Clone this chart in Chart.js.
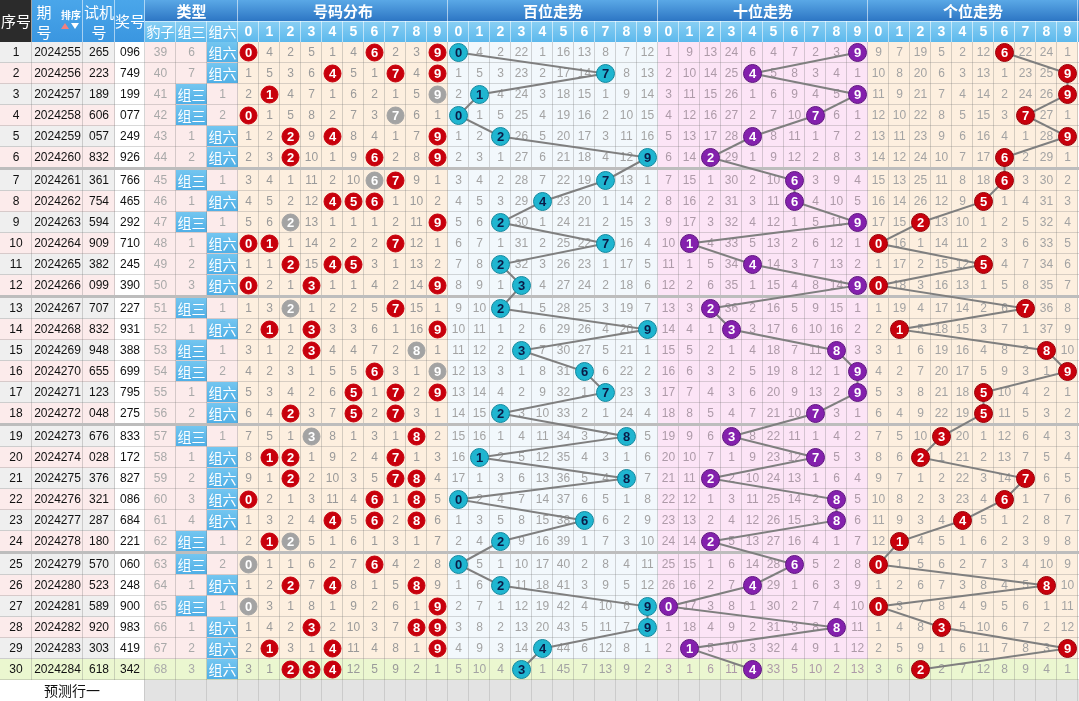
<!DOCTYPE html>
<html>
<head>
<meta charset="utf-8">
<script src="https://cdn.jsdelivr.net/npm/chart.js@4.4.1/dist/chart.umd.min.js"></script>
<style>
html,body{margin:0;padding:0;background:#fff;overflow:hidden}
canvas{display:block}
</style>
</head>
<body>
<canvas id="myChart" width="1079" height="701"></canvas>
<script>
// ---- data ----
var rowNo = [1,2,3,4,5,6,7,8,9,10,11,12,13,14,15,16,17,18,19,20,21,22,23,24,25,26,27,28,29,30];
var periods = ['2024255','2024256','2024257','2024258','2024259','2024260','2024261','2024262','2024263','2024264',
  '2024265','2024266','2024267','2024268','2024269','2024270','2024271','2024272','2024273','2024274',
  '2024275','2024276','2024277','2024278','2024279','2024280','2024281','2024282','2024283','2024284'];
var testNums = ['265','223','189','606','057','832','361','754','594','909','382','099','707','832','948',
  '655','123','048','676','028','376','321','287','180','570','523','589','920','303','618'];
var drawNums = ['096','749','199','077','249','926','766','465','292','710','245','390','227','931','388',
  '699','795','275','833','172','827','086','684','221','060','248','900','983','419','342'];
var digits = ['0','1','2','3','4','5','6','7','8','9'];
var typeNames = ['豹子','组三','组六'];
var sections = ['号码分布','百位走势','十位走势','个位走势'];
// miss counts shown in the first row (0 = hit)
var typeMiss0 = [39, 6, 0];
var distMiss0 = [0,4,2,5,1,4,0,2,3,0];
var baiMiss0 = [0,4,2,22,1,16,13,8,7,12];
var shiMiss0 = [1,9,13,24,6,4,7,2,3,0];
var geMiss0 = [9,7,19,5,2,12,0,22,24,1];

// ---- layout ----
var U = 21;                        // px per digit column / row
var SEP = 2 / U;                   // group separator
var leftEdges = [0,32,83,115,145,176,207,238];
var secStart = 238 / U;

function rowTop(i){ return i + Math.min(Math.floor(i / 6), 4) * SEP; }
function digitX(s, d){ return secStart + s * 10 + d; }

var n = drawNums.length;
function cnt(str, ch){ return str.split(ch).length - 1; }
function isBaozi(s){ return s[0]==s[1] && s[1]==s[2]; }
function isZuSan(s){ return !isBaozi(s) && (s[0]==s[1] || s[1]==s[2] || s[0]==s[2]); }

function missTable(first, hit){
  var out = [first.slice()];
  for (var i = 1; i < n; i++){
    out.push(first.map(function(_, d){ return hit(i, d) ? 0 : out[i-1][d] + 1; }));
  }
  return out;
}
var typeMiss = missTable(typeMiss0, function(i, k){
  var s = drawNums[i];
  return k == 0 ? isBaozi(s) : k == 1 ? isZuSan(s) : (!isBaozi(s) && !isZuSan(s));
});
var distMiss = missTable(distMiss0, function(i, d){ return cnt(drawNums[i], String(d)) > 0; });
var posMiss = [baiMiss0, shiMiss0, geMiss0].map(function(m, p){
  return missTable(m, function(i, d){ return drawNums[i][p] == String(d); });
});

// ---- datasets ----
var distPts = [], distCols = [];
drawNums.forEach(function(s, i){
  digits.forEach(function(ch, d){
    var c = cnt(s, ch);
    if (c > 0){
      distPts.push({x: digitX(0, d) + 0.5, y: rowTop(i) + 0.5, t: ch});
      distCols.push(c > 1 ? '#a3a3a3' : '#c8000c');
    }
  });
});
var posStyle = [
  {fill:'#1fb5d0', edge:'#12899f', text:'#0a1c48'},
  {fill:'#8420ad', edge:'#5f1680', text:'#ffffff'},
  {fill:'#c8000c', edge:'#9a0008', text:'#ffffff'}
];
var datasets = [{
  data: distPts, showLine: false, pointRadius: 8.5,
  pointBackgroundColor: distCols, pointBorderColor: distCols, pointBorderWidth: 1, txt: '#ffffff'
}];
[0,1,2].forEach(function(p){
  datasets.push({
    data: drawNums.map(function(s, i){ return {x: digitX(p + 1, +s[p]) + 0.5, y: rowTop(i) + 0.5, t: s[p]}; }),
    showLine: true, borderColor: '#7f7f7f', borderWidth: 2, tension: 0,
    pointRadius: 9, pointBackgroundColor: posStyle[p].fill, pointBorderColor: posStyle[p].edge,
    pointBorderWidth: 1, txt: posStyle[p].text
  });
});

var CJK = '"Noto Sans CJK SC", sans-serif';
var NUM = '"Liberation Sans", Arial, sans-serif';

var tablePlugin = {
  id: 'table',
  beforeDatasetsDraw: function(chart){
    var ctx = chart.ctx, xs = chart.scales.x, ys = chart.scales.y;
    function px(v){ return xs.getPixelForValue(v); }
    function py(v){ return ys.getPixelForValue(v); }
    function rect(x0, y0, x1, y1, c){ ctx.fillStyle = c; ctx.fillRect(x0, y0, x1 - x0, y1 - y0); }
    function text(t, x, y, font, c){ ctx.font = font; ctx.fillStyle = c; ctx.fillText(t, x, y); }
    ctx.save();
    ctx.textAlign = 'center'; ctx.textBaseline = 'middle';
    var W = chart.width;

    // body rows
    for (var i = 0; i < n; i++){
      var y0 = py(rowTop(i)), y1 = py(rowTop(i) + 1), yc = (y0 + y1) / 2;
      var last = i == n - 1, green = '#ebf7d0';
      var zebra = last ? green : (i % 2 == 0 ? '#efefef' : '#fcebeb');
      rect(leftEdges[0], y0, leftEdges[1], y1, zebra);
      rect(leftEdges[1], y0, leftEdges[2], y1, zebra);
      rect(leftEdges[2], y0, leftEdges[3], y1, zebra);
      rect(leftEdges[3], y0, leftEdges[4], y1, last ? green : '#ffffff');
      rect(leftEdges[4], y0, leftEdges[7], y1, last ? green : '#fcebeb');
      var secBg = ['#fdefdf', '#f2f8fc', '#fce4f6', '#fdefdf'];
      for (var s = 0; s < 4; s++){
        rect(px(digitX(s, 0)), y0, px(digitX(s, 10)), y1, last ? green : secBg[s]);
      }
      // type cells
      for (var k = 0; k < 3; k++){
        var xa = leftEdges[4 + k], xb = leftEdges[5 + k];
        if (typeMiss[i][k] == 0){
          var g = ctx.createLinearGradient(0, y0, 0, y1);
          g.addColorStop(0, '#74c6f0'); g.addColorStop(1, '#4eaee6');
          rect(xa, y0, xb, y1 - 1, g);
          text(typeNames[k], (xa + xb) / 2, yc, '14px ' + CJK, '#ffffff');
        } else {
          text(String(typeMiss[i][k]), (xa + xb) / 2, yc, '12px ' + NUM, '#a9a9a9');
        }
      }
      text(String(rowNo[i]), 16, yc, '12px ' + NUM, '#111');
      text(periods[i], 57.5, yc, '12px ' + NUM, '#111');
      text(testNums[i], 99, yc, '12px ' + NUM, '#111');
      text(drawNums[i], 130, yc, '12px ' + NUM, '#111');
      // miss numbers
      for (var d = 0; d < 10; d++){
        var cx = px(digitX(0, d) + 0.5);
        if (distMiss[i][d] > 0) text(String(distMiss[i][d]), cx, yc + 0.5, '12px ' + NUM, '#9a9a9a');
        for (var p = 0; p < 3; p++){
          if (posMiss[p][i][d] > 0)
            text(String(posMiss[p][i][d]), px(digitX(p + 1, d) + 0.5), yc + 0.5, '12px ' + NUM, p == 1 ? '#ad9aa8' : '#a3a3a3');
        }
      }
      // horizontal grid
      ctx.fillStyle = 'rgba(120,120,120,0.28)';
      ctx.fillRect(0, y1 - 1, W, 1);
    }
    // vertical grid lines
    var yTop = py(0), yBot = py(rowTop(n - 1) + 1);
    ctx.fillStyle = 'rgba(120,120,120,0.30)';
    leftEdges.slice(1).forEach(function(x){ ctx.fillRect(x - 1, yTop, 1, yBot - yTop); });
    for (var c = 1; c <= 40; c++){ ctx.fillRect(Math.round(px(secStart + c)) - 1, yTop, 1, yBot - yTop); }
    // group separators
    for (var gI = 6; gI < n; gI += 6){
      var ys0 = py(rowTop(gI - 1) + 1), ys1 = py(rowTop(gI));
      rect(0, ys0 - 1, W, ys1, '#bdbdbd');
    }
    // forecast row
    var fy0 = py(rowTop(n)), fy1 = chart.height;
    rect(0, fy0, leftEdges[4], fy1, '#ffffff');
    rect(leftEdges[4], fy0, W, fy1, '#e3e3e3');
    ctx.fillStyle = '#cbcbcb';
    [176, 207, 238].forEach(function(x){ ctx.fillRect(x - 1, fy0, 1, fy1 - fy0); });
    ctx.fillRect(leftEdges[4] - 1, fy0, 1, fy1 - fy0);
    for (var c2 = 1; c2 <= 40; c2++){ ctx.fillRect(Math.round(px(secStart + c2)) - 1, fy0, 1, fy1 - fy0); }
    text('预测行一', 72, (fy0 + fy1) / 2, '14px ' + CJK, '#111');

    // header
    var h0 = py(-2), h1 = py(-1), h2 = py(0);
    function topGrad(){ var g = ctx.createLinearGradient(0, h0, 0, h1); g.addColorStop(0, '#5aa8e6'); g.addColorStop(1, '#2d76c4'); return g; }
    function subGrad(){ var g = ctx.createLinearGradient(0, h1, 0, h2); g.addColorStop(0, '#8ad0f4'); g.addColorStop(1, '#5cb8ec'); return g; }
    function colGrad(){ var g = ctx.createLinearGradient(0, h0, 0, h2); g.addColorStop(0, '#4aa6ea'); g.addColorStop(1, '#3a96e0'); return g; }
    rect(0, h0, 32, h2, '#2b2b2b');
    text('序号', 16, (h0 + h2) / 2, '15px ' + CJK, '#ffffff');
    rect(32, h0, 145, h2, colGrad());
    text('期', 44, 12, '15px ' + CJK, '#ffffff');
    text('号', 44, 32, '15px ' + CJK, '#ffffff');
    text('排序', 71, 15, 'bold 10px ' + CJK, '#ffffff');
    ctx.fillStyle = '#f08080';
    ctx.beginPath(); ctx.moveTo(61, 29); ctx.lineTo(65, 23); ctx.lineTo(69, 29); ctx.fill();
    ctx.fillStyle = '#ffffff';
    ctx.beginPath(); ctx.moveTo(71, 23); ctx.lineTo(79, 23); ctx.lineTo(75, 29); ctx.fill();
    text('试机', 99, 12, '15px ' + CJK, '#ffffff');
    text('号', 99, 32, '15px ' + CJK, '#ffffff');
    text('奖号', 130, (h0 + h2) / 2, '15px ' + CJK, '#ffffff');
    rect(145, h0, W, h1, topGrad());
    rect(145, h1, W, h2, subGrad());
    text('类型', 191.5, (h0 + h1) / 2 + 1, 'bold 15px ' + CJK, '#ffffff');
    for (var k2 = 0; k2 < 3; k2++){
      text(typeNames[k2], (leftEdges[4 + k2] + leftEdges[5 + k2]) / 2, (h1 + h2) / 2, '14px ' + CJK, '#ffffff');
    }
    for (var s2 = 0; s2 < 4; s2++){
      var sx0 = px(digitX(s2, 0)), sx1 = px(digitX(s2, 10));
      text(sections[s2], (sx0 + sx1) / 2, (h0 + h1) / 2 + 1, 'bold 15px ' + CJK, '#ffffff');
      for (var d2 = 0; d2 < 10; d2++){
        text(digits[d2], px(digitX(s2, d2) + 0.5), (h1 + h2) / 2 + 1, 'bold 14px ' + NUM, '#ffffff');
      }
    }
    // header borders
    ctx.fillStyle = 'rgba(255,255,255,0.55)';
    [32, 83, 115, 145].forEach(function(x){ ctx.fillRect(x - 1, h0, 1, h2 - h0); });
    for (var s3 = 0; s3 <= 4; s3++){ ctx.fillRect(Math.round(px(digitX(s3, 0))) - 1, h0, 1, h2 - h0); }
    ctx.fillRect(145, h1, W - 145, 1);
    [176, 207].forEach(function(x){ ctx.fillRect(x - 1, h1, 1, h2 - h1); });
    for (var c3 = 1; c3 <= 40; c3++){ ctx.fillRect(Math.round(px(secStart + c3)) - 1, h1, 1, h2 - h1); }
    ctx.restore();
  },
  afterDatasetsDraw: function(chart){
    var ctx = chart.ctx;
    ctx.save();
    ctx.textAlign = 'center'; ctx.textBaseline = 'middle';
    ctx.font = 'bold 13px ' + NUM;
    chart.data.datasets.forEach(function(ds, k){
      var meta = chart.getDatasetMeta(k);
      meta.data.forEach(function(el, j){
        ctx.fillStyle = ds.txt;
        ctx.fillText(ds.data[j].t, el.x, el.y + 1);
      });
    });
    ctx.restore();
  }
};

const ctx = document.getElementById('myChart').getContext('2d');
const myChart = new Chart(ctx, {
  type: 'scatter',
  data: { datasets: datasets },
  options: {
    responsive: false,
    animation: false,
    devicePixelRatio: 1,
    events: [],
    layout: { padding: 0, autoPadding: false },
    plugins: { legend: { display: false }, tooltip: { enabled: false } },
    scales: {
      x: { type: 'linear', display: false, min: 0, max: 1079 / U },
      y: { type: 'linear', display: false, reverse: true, min: -2, max: 659 / U }
    }
  },
  plugins: [tablePlugin]
});
</script>
</body>
</html>
